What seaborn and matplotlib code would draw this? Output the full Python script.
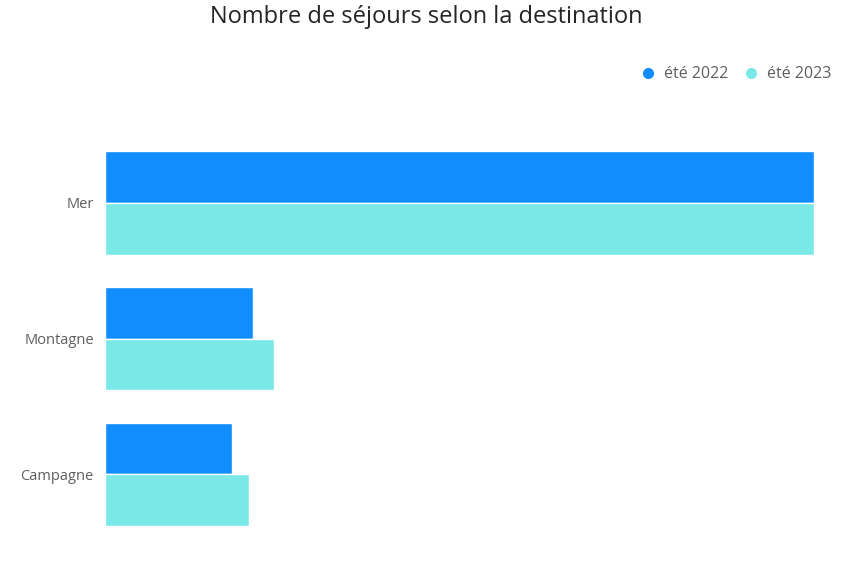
import matplotlib
matplotlib.use("Agg")
import matplotlib.pyplot as plt
import seaborn as sns
import pandas as pd
from matplotlib.lines import Line2D

destinations = ["Mer", "Montagne", "Campagne"]
ete_2022 = [709, 148, 127]
ete_2023 = [709, 169, 144]
series = ["été 2022", "été 2023"]
colors = ["#118DFF", "#7BE8E8"]

df = pd.DataFrame({
    "Destination": destinations * 2,
    "Séjours": ete_2022 + ete_2023,
    "Saison": [series[0]] * 3 + [series[1]] * 3,
})

sns.set_style("white")
plt.rcParams["font.family"] = ["Open Sans", "DejaVu Sans"]

fig = plt.figure(figsize=(8.67, 5.63), dpi=100)
ax = fig.add_axes([0.121, 0.037, 0.818, 0.723])
sns.barplot(data=df, x="Séjours", y="Destination", hue="Saison", palette=colors,
            width=0.76, orient="h", ax=ax, legend=False, saturation=1)
ax.set_xlim(0, max(ete_2022 + ete_2023))
ax.set_ylim(2.5, -0.5)
ax.set_xlabel("")
ax.set_ylabel("")
ax.set_xticks([])
ax.tick_params(axis="y", length=0, labelsize=10.5, labelcolor="#605E5C", pad=8)
for s in ax.spines.values():
    s.set_visible(False)

fig.text(0.492, 0.97, "Nombre de séjours selon la destination", ha="center", va="center",
         fontsize=17, color="#252423")
handles = [Line2D([], [], marker="o", linestyle="", color=c, markersize=7) for c in colors]
fig.legend(handles, series, loc="center right", bbox_to_anchor=(0.975, 0.868), ncol=2,
           frameon=False, fontsize=11.5, handletextpad=0.0, columnspacing=0.4,
           labelcolor="#605E5C")
fig.savefig("out.png", dpi=100)
